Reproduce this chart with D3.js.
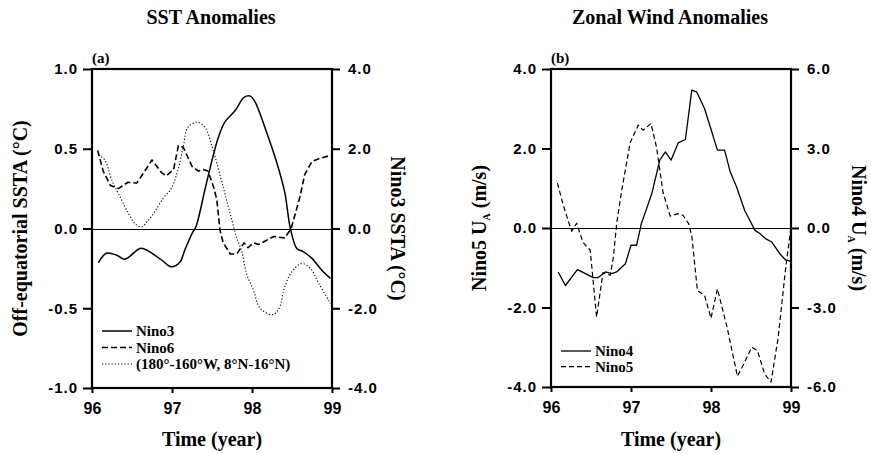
<!DOCTYPE html>
<html>
<head>
<meta charset="utf-8">
<script src="https://cdn.jsdelivr.net/npm/d3@7"></script>
<style>
  body { margin: 0; background: #fff; }
  svg { display: block; }
</style>
</head>
<body>
<div id="chart"></div>
<script>
// Datos (anio decimal, valor)
// Panel (a): Nino3 en eje derecho (°C), Nino6 y off-equatorial en eje izquierdo
var nino3Time = [96.08, 96.18, 96.31, 96.41, 96.6, 96.68, 96.87, 96.99, 97.1, 97.16, 97.25, 97.3, 97.41, 97.5, 97.58, 97.66, 97.79, 97.9, 97.98, 98.04, 98.16, 98.31, 98.41, 98.48, 98.56, 98.64, 98.75, 98.87, 98.98];
var nino3Sst = [-0.86, -0.62, -0.67, -0.77, -0.5, -0.54, -0.79, -0.96, -0.84, -0.54, -0.13, 0.05, 0.96, 1.71, 2.29, 2.67, 2.96, 3.29, 3.32, 3.17, 2.54, 1.65, 0.9, 0.0, -0.5, -0.58, -0.75, -1.04, -1.25];

var nino6Time = [96.07, 96.14, 96.23, 96.33, 96.45, 96.56, 96.66, 96.75, 96.87, 96.93, 97.02, 97.08, 97.14, 97.25, 97.33, 97.39, 97.45, 97.52, 97.56, 97.6, 97.64, 97.73, 97.81, 97.9, 97.95, 98.02, 98.08, 98.16, 98.27, 98.41, 98.49, 98.6, 98.66, 98.75, 98.85, 98.96, 99.0];
var nino6Sst = [0.49, 0.36, 0.27, 0.25, 0.29, 0.285, 0.36, 0.43, 0.35, 0.33, 0.37, 0.52, 0.51, 0.39, 0.36, 0.37, 0.36, 0.26, 0.18, -0.01, -0.09, -0.16, -0.16, -0.09, -0.12, -0.09, -0.1, -0.08, -0.05, -0.06, 0.0, 0.2, 0.34, 0.42, 0.44, 0.455, 0.46];

var offEqTime = [96.08, 96.16, 96.25, 96.35, 96.45, 96.54, 96.62, 96.7, 96.79, 96.89, 96.99, 97.07, 97.14, 97.2, 97.31, 97.41, 97.52, 97.64, 97.75, 97.81, 97.87, 97.93, 98.02, 98.1, 98.25, 98.33, 98.41, 98.5, 98.62, 98.73, 98.83, 98.98];
var offEqSst = [0.46, 0.43, 0.3, 0.2, 0.1, 0.03, 0.01, 0.05, 0.11, 0.19, 0.25, 0.36, 0.51, 0.635, 0.666, 0.635, 0.48, 0.26, 0.05, -0.06, -0.14, -0.28, -0.39, -0.5, -0.54, -0.51, -0.365, -0.27, -0.22, -0.25, -0.34, -0.47];

// Panel (b): Nino4 en eje derecho, Nino5 en eje izquierdo (m/s)
var nino4Time = [96.09, 96.18, 96.33, 96.43, 96.53, 96.59, 96.68, 96.76, 96.82, 96.93, 97.0, 97.07, 97.13, 97.18, 97.26, 97.36, 97.43, 97.5, 97.59, 97.68, 97.76, 97.82, 97.92, 98.01, 98.08, 98.17, 98.24, 98.32, 98.42, 98.55, 98.61, 98.68, 98.76, 98.86, 98.93, 98.99];
var nino4Wind = [-1.66, -2.17, -1.57, -1.72, -1.87, -1.87, -1.66, -1.72, -1.66, -1.35, -0.65, -0.65, 0.17, 0.6, 1.3, 2.56, 2.87, 2.56, 3.21, 3.34, 5.2, 5.14, 4.5, 3.63, 2.94, 2.94, 2.12, 1.55, 0.67, -0.09, -0.21, -0.4, -0.53, -0.97, -1.2, -1.25];

var nino5Time = [96.08, 96.15, 96.22, 96.26, 96.32, 96.4, 96.49, 96.57, 96.65, 96.74, 96.78, 96.82, 96.88, 96.99, 97.09, 97.15, 97.25, 97.32, 97.4, 97.49, 97.59, 97.65, 97.72, 97.76, 97.83, 97.92, 98.0, 98.08, 98.2, 98.33, 98.41, 98.51, 98.58, 98.67, 98.75, 98.84, 98.93, 99.0];
var nino5Wind = [1.13, 0.6, 0.15, -0.08, 0.12, -0.36, -0.56, -2.24, -1.12, -1.19, -0.73, 0.1, 0.9, 2.15, 2.59, 2.46, 2.63, 2.02, 0.9, 0.3, 0.36, 0.32, 0.11, -0.2, -1.57, -1.7, -2.27, -1.53, -2.49, -3.73, -3.42, -3.0, -3.08, -3.67, -3.88, -2.75, -1.07, 0.03];

// Etiquetas de ejes
var yearTicks = [96, 97, 98, 99];
var yearLabels = ["96", "97", "98", "99"];
var sstLeftTicks = [-1, -0.5, 0, 0.5, 1];
var sstLeftLabels = ["-1.0", "-0.5", "0.0", "0.5", "1.0"];
var sstRightTicks = [-4, -2, 0, 2, 4];
var sstRightLabels = ["-4.0", "-2.0", "0.0", "2.0", "4.0"];
var windLeftTicks = [-4, -2, 0, 2, 4];
var windLeftLabels = ["-4.0", "-2.0", "0.0", "2.0", "4.0"];
var windRightTicks = [-6, -3, 0, 3, 6];
var windRightLabels = ["-6.0", "-3.0", "0.0", "3.0", "6.0"];

var serif = "'Liberation Serif', 'Times New Roman', serif";
var sans = "'Liberation Sans', Arial, sans-serif";

var svg = d3.select('#chart').append('svg')
  .attr('width', 871)
  .attr('height', 454);

function zip(t, v) {
  return t.map(function(d, i) { return {t: d, v: v[i]}; });
}

// Dibuja un panel con doble eje
function drawPanel(p) {
  var x = d3.scaleLinear().domain([96, 99]).range([p.left, p.right]);
  var yL = d3.scaleLinear().domain(p.leftDomain).range([p.bottom, p.top]);
  var yR = d3.scaleLinear().domain(p.rightDomain).range([p.bottom, p.top]);

  var g = svg.append('g');

  // linea de cero
  var y0 = Math.round(yL(0)) + 0.5;
  g.append('line')
    .attr('x1', p.left).attr('x2', p.right)
    .attr('y1', y0).attr('y2', y0)
    .attr('stroke', '#000').attr('stroke-width', 1);

  // series
  p.series.forEach(function(s) {
    var y = s.axis === 'right' ? yR : yL;
    var line = d3.line()
      .x(function(d) { return x(d.t); })
      .y(function(d) { return y(d.v); })
      .curve(s.curve || d3.curveLinear);
    g.append('path')
      .datum(zip(s.time, s.values))
      .attr('d', line)
      .attr('fill', 'none')
      .attr('stroke', '#000')
      .attr('stroke-width', s.width)
      .attr('stroke-dasharray', s.dash || null)
      .attr('stroke-linejoin', 'round');
  });

  // ejes
  var axL = g.append('g')
    .attr('transform', 'translate(' + p.left + ',0)')
    .call(d3.axisLeft(yL).tickValues(p.leftTicks).tickSize(9).tickPadding(5)
      .tickFormat(function(d, i) { return p.leftLabels[i]; }));
  var axR = g.append('g')
    .attr('transform', 'translate(' + p.right + ',0)')
    .call(d3.axisRight(yR).tickValues(p.rightTicks).tickSize(8).tickPadding(8)
      .tickFormat(function(d, i) { return p.rightLabels[i]; }));
  var axB = g.append('g')
    .attr('transform', 'translate(0,' + p.bottom + ')')
    .call(d3.axisBottom(x).tickValues(yearTicks).tickSize(5).tickPadding(10)
      .tickFormat(function(d, i) { return yearLabels[i]; }));

  [axL, axR, axB].forEach(function(a) {
    a.select('.domain').remove();
    a.selectAll('.tick line').attr('stroke-width', 2);
    a.selectAll('.tick text')
      .style('font-family', sans)
      .style('font-weight', 'bold')
      .style('font-size', '15px')
      .style('letter-spacing', '1px')
      .attr('fill', '#000');
  });
  axB.selectAll('.tick text').style('font-size', '16px').style('letter-spacing', '0px');

  // marco
  g.append('rect')
    .attr('x', p.left).attr('y', p.top)
    .attr('width', p.right - p.left).attr('height', p.bottom - p.top)
    .attr('fill', 'none').attr('stroke', '#000').attr('stroke-width', 2.2);

  // titulo
  g.append('text')
    .attr('x', p.titleX).attr('y', 24)
    .attr('text-anchor', 'middle')
    .style('font-family', serif).style('font-weight', 'bold').style('font-size', '20px')
    .text(p.title);

  g.append('text')
    .attr('x', p.left).attr('y', 63)
    .style('font-family', serif).style('font-weight', 'bold').style('font-size', '15px')
    .text(p.tag);

  g.append('text')
    .attr('x', (p.left + p.right) / 2).attr('y', 446)
    .attr('text-anchor', 'middle')
    .style('font-family', serif).style('font-weight', 'bold').style('font-size', '20px')
    .text('Time (year)');

  // etiquetas de ejes verticales
  var lt = g.append('text')
    .attr('transform', 'translate(' + p.leftLabelX + ',' + (p.top + p.bottom) / 2 + ') rotate(-90)')
    .attr('text-anchor', 'middle')
    .style('font-family', serif).style('font-weight', 'bold').style('font-size', '20px');
  p.leftTitle(lt);

  var rt = g.append('text')
    .attr('transform', 'translate(' + p.rightLabelX + ',' + (p.top + p.bottom) / 2 + ') rotate(90)')
    .attr('text-anchor', 'middle')
    .style('font-family', serif).style('font-weight', 'bold').style('font-size', '20px');
  p.rightTitle(rt);

  // leyenda
  var lg = g.append('g');
  p.legend.forEach(function(l, i) {
    var yy = p.legendY + i * p.legendStep;
    lg.append('line')
      .attr('x1', p.left + 10).attr('x2', p.left + 40)
      .attr('y1', yy).attr('y2', yy)
      .attr('stroke', '#000').attr('stroke-width', l.width)
      .attr('stroke-dasharray', l.dash || null);
    lg.append('text')
      .attr('x', p.left + 44).attr('y', yy + 5)
      .style('font-family', serif).style('font-weight', 'bold').style('font-size', '15px')
      .text(l.name);
  });
}

function uaLabel(prefix) {
  return function(t) {
    t.append('tspan').text(prefix + ' U');
    t.append('tspan').attr('dy', 4).style('font-size', '10px').text('A');
    t.append('tspan').attr('dy', -4).text(' (m/s)');
  };
}

drawPanel({
  left: 92, right: 332, top: 69, bottom: 388,
  leftDomain: [-1, 1], rightDomain: [-4, 4],
  leftTicks: sstLeftTicks, leftLabels: sstLeftLabels,
  rightTicks: sstRightTicks, rightLabels: sstRightLabels,
  title: 'SST Anomalies', titleX: 211, tag: '(a)',
  leftLabelX: 27, rightLabelX: 391,
  leftTitle: function(t) { t.text('Off-equatorial SSTA (°C)'); },
  rightTitle: function(t) { t.text('Nino3 SSTA (°C)'); },
  series: [
    {time: offEqTime, values: offEqSst, axis: 'left', width: 1.1, dash: '1.2,2', curve: d3.curveCatmullRom},
    {time: nino6Time, values: nino6Sst, axis: 'left', width: 1.6, dash: '6,3'},
    {time: nino3Time, values: nino3Sst, axis: 'right', width: 1.5, curve: d3.curveCatmullRom}
  ],
  legendY: 331, legendStep: 16.5,
  legend: [
    {name: 'Nino3', width: 1.5},
    {name: 'Nino6', width: 1.5, dash: '6,3'},
    {name: '(180°-160°W, 8°N-16°N)', width: 1.1, dash: '1.2,2'}
  ]
});

drawPanel({
  left: 551, right: 791, top: 69, bottom: 387,
  leftDomain: [-4, 4], rightDomain: [-6, 6],
  leftTicks: windLeftTicks, leftLabels: windLeftLabels,
  rightTicks: windRightTicks, rightLabels: windRightLabels,
  title: 'Zonal Wind Anomalies', titleX: 670, tag: '(b)',
  leftLabelX: 486, rightLabelX: 852,
  leftTitle: uaLabel('Nino5'),
  rightTitle: uaLabel('Nino4'),
  series: [
    {time: nino5Time, values: nino5Wind, axis: 'left', width: 1.2, dash: '5,3'},
    {time: nino4Time, values: nino4Wind, axis: 'right', width: 1.3}
  ],
  legendY: 351, legendStep: 15.7,
  legend: [
    {name: 'Nino4', width: 1.3},
    {name: 'Nino5', width: 1.2, dash: '5,3'}
  ]
});
</script>
</body>
</html>
